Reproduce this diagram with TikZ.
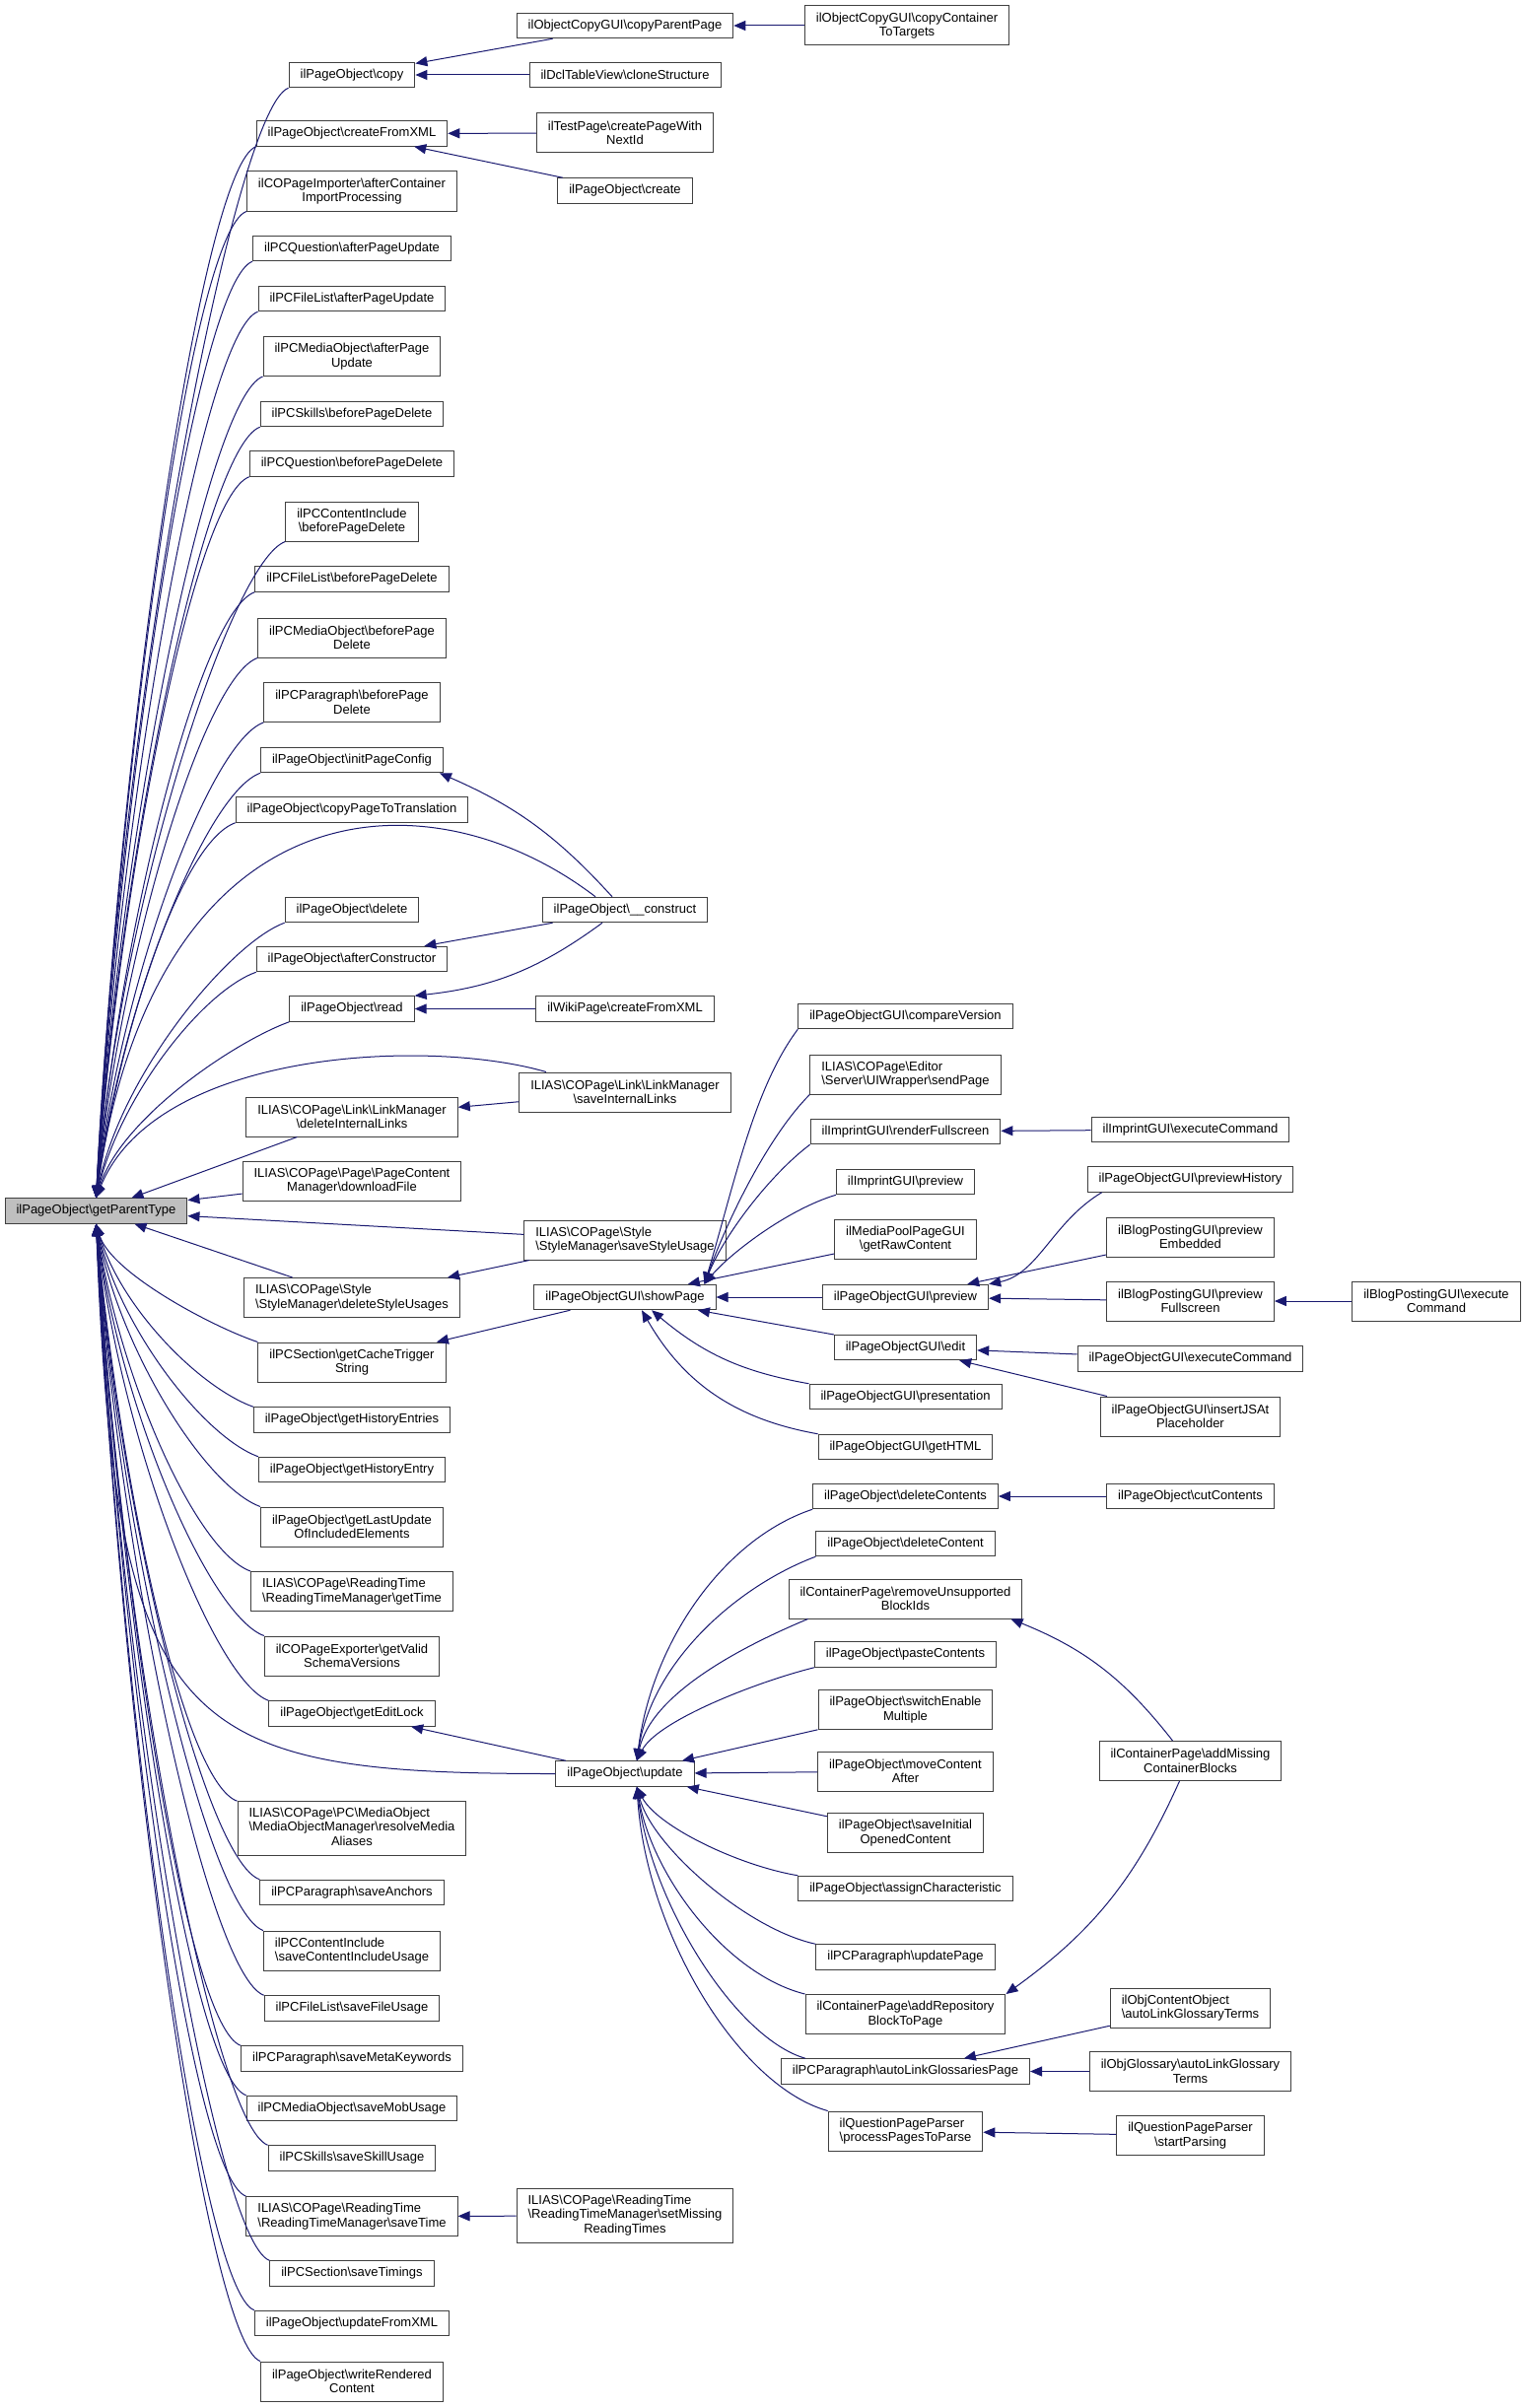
\documentclass[tikz,border=0pt]{standalone}
\usepackage{fontspec}
\setmainfont{Liberation Sans}
\usepackage{tikz}
\usetikzlibrary{arrows.meta}
\definecolor{edgeblue}{HTML}{191970}
\definecolor{boxgray}{HTML}{404040}
\definecolor{rootfill}{HTML}{BFBFBF}
\newcommand{\bsl}{\textbackslash}
\tikzset{
  fbase/.style={draw=boxgray, line width=1pt, fill=white, inner xsep=11.5pt, inner ysep=0pt,
    minimum height=25.5pt, font=\fontsize{13}{14.5}\selectfont},
  func/.style={fbase, align=center},
  func2/.style={func, minimum height=40pt},
  func3/.style={fbase, minimum height=54.5pt},
  focus/.style={func, fill=rootfill},
  call/.style={draw=edgeblue, line width=1pt, -{Triangle[length=12pt,width=10pt]}}
}
\begin{document}
\begin{tikzpicture}[x=1pt, y=-1pt]
      \useasboundingbox (0,0) rectangle (1548,2443);
      \node[focus] (root) at (97.5,1228.5) {ilPageObject\bsl getParentType};
      \node[func] (copy) at (357,76) {ilPageObject\bsl copy};
      \node[func] (createxml) at (357,135.5) {ilPageObject\bsl createFromXML};
      \node[func2] (afterimport) at (357,194) {ilCOPageImporter\bsl afterContainer\\ImportProcessing};
      \node[func] (qafterupd) at (357,252) {ilPCQuestion\bsl afterPageUpdate};
      \node[func] (flafterupd) at (357,303) {ilPCFileList\bsl afterPageUpdate};
      \node[func2] (moafterupd) at (357,361.5) {ilPCMediaObject\bsl afterPage\\Update};
      \node[func] (skbefdel) at (357,420) {ilPCSkills\bsl beforePageDelete};
      \node[func] (qbefdel) at (357,470.5) {ilPCQuestion\bsl beforePageDelete};
      \node[func2] (cibefdel) at (357,529) {ilPCContentInclude\\\bsl beforePageDelete};
      \node[func] (flbefdel) at (357,587.5) {ilPCFileList\bsl beforePageDelete};
      \node[func2] (mobefdel) at (357,647) {ilPCMediaObject\bsl beforePage\\Delete};
      \node[func2] (parbefdel) at (357,712.5) {ilPCParagraph\bsl beforePage\\Delete};
      \node[func] (initcfg) at (357,771) {ilPageObject\bsl initPageConfig};
      \node[func] (copytrans) at (357,821.5) {ilPageObject\bsl copyPageToTranslation};
      \node[func] (delete) at (357,923) {ilPageObject\bsl delete};
      \node[func] (afterctor) at (357,973) {ilPageObject\bsl afterConstructor};
      \node[func] (read) at (357,1023.5) {ilPageObject\bsl read};
      \node[func2] (dellinks) at (357,1133) {ILIAS\bsl COPage\bsl Link\bsl LinkManager\\\bsl deleteInternalLinks};
      \node[func2] (download) at (357,1198) {ILIAS\bsl COPage\bsl Page\bsl PageContent\\Manager\bsl downloadFile};
      \node[func2, align=left] (delstyle) at (357,1316.5) {ILIAS\bsl COPage\bsl Style\\\bsl StyleManager\bsl deleteStyleUsages};
      \node[func2] (cachetrig) at (357,1382) {ilPCSection\bsl getCacheTrigger\\String};
      \node[func] (histentries) at (357,1440.5) {ilPageObject\bsl getHistoryEntries};
      \node[func] (histentry) at (357,1491) {ilPageObject\bsl getHistoryEntry};
      \node[func2] (lastupd) at (357,1549) {ilPageObject\bsl getLastUpdate\\OfIncludedElements};
      \node[func2, align=left] (gettime) at (357,1614.5) {ILIAS\bsl COPage\bsl ReadingTime\\\bsl ReadingTimeManager\bsl getTime};
      \node[func2] (schemas) at (357,1680) {ilCOPageExporter\bsl getValid\\SchemaVersions};
      \node[func] (editlock) at (357,1738.5) {ilPageObject\bsl getEditLock};
      \node[func3] (resolvemedia) at (357,1855) {\begin{tabular}{@{}l@{}}ILIAS\bsl COPage\bsl PC\bsl MediaObject\\\bsl MediaObjectManager\bsl resolveMedia\\\multicolumn{1}{@{}c@{}}{Aliases}\end{tabular}};
      \node[func] (anchors) at (357,1920) {ilPCParagraph\bsl saveAnchors};
      \node[func2, align=left] (ciusage) at (357,1979) {ilPCContentInclude\\\bsl saveContentIncludeUsage};
      \node[func] (fileusage) at (357,2037.5) {ilPCFileList\bsl saveFileUsage};
      \node[func] (metakw) at (357,2088.5) {ilPCParagraph\bsl saveMetaKeywords};
      \node[func] (mobusage) at (357,2139) {ilPCMediaObject\bsl saveMobUsage};
      \node[func] (skillusage) at (357,2189.5) {ilPCSkills\bsl saveSkillUsage};
      \node[func2, align=left] (savetime) at (357,2248.5) {ILIAS\bsl COPage\bsl ReadingTime\\\bsl ReadingTimeManager\bsl saveTime};
      \node[func] (timings) at (357,2306.5) {ilPCSection\bsl saveTimings};
      \node[func] (updxml) at (357,2357) {ilPageObject\bsl updateFromXML};
      \node[func2] (writerend) at (357,2416) {ilPageObject\bsl writeRendered\\Content};
      \node[func] (copyparent) at (634,26) {ilObjectCopyGUI\bsl copyParentPage};
      \node[func] (clonestruct) at (634,76) {ilDclTableView\bsl cloneStructure};
      \node[func2] (createnext) at (634,135) {ilTestPage\bsl createPageWith\\NextId};
      \node[func] (create) at (634,193.5) {ilPageObject\bsl create};
      \node[func] (construct) at (634,923) {ilPageObject\bsl\_\_construct};
      \node[func] (wikixml) at (634,1023.5) {ilWikiPage\bsl createFromXML};
      \node[func2] (savelinks) at (634,1108) {ILIAS\bsl COPage\bsl Link\bsl LinkManager\\\bsl saveInternalLinks};
      \node[func2, align=left] (savestyle) at (634,1258) {ILIAS\bsl COPage\bsl Style\\\bsl StyleManager\bsl saveStyleUsage};
      \node[func] (showpage) at (634,1316) {ilPageObjectGUI\bsl showPage};
      \node[func] (update) at (634,1799.5) {ilPageObject\bsl update};
      \node[func3] (setmissing) at (634,2248) {\begin{tabular}{@{}l@{}}ILIAS\bsl COPage\bsl ReadingTime\\\bsl ReadingTimeManager\bsl setMissing\\\multicolumn{1}{@{}c@{}}{ReadingTimes}\end{tabular}};
      \node[func2] (copytargets) at (920,26) {ilObjectCopyGUI\bsl copyContainer\\ToTargets};
      \node[func] (compare) at (918.5,1031) {ilPageObjectGUI\bsl compareVersion};
      \node[func2, align=left] (sendpage) at (918.5,1090) {ILIAS\bsl COPage\bsl Editor\\\bsl Server\bsl UIWrapper\bsl sendPage};
      \node[func] (renderfull) at (918.5,1148) {ilImprintGUI\bsl renderFullscreen};
      \node[func] (imppreview) at (918.5,1199) {ilImprintGUI\bsl preview};
      \node[func2] (rawcontent) at (918.5,1257) {ilMediaPoolPageGUI\\\bsl getRawContent};
      \node[func] (preview) at (918.5,1316) {ilPageObjectGUI\bsl preview};
      \node[func] (edit) at (918.5,1367) {ilPageObjectGUI\bsl edit};
      \node[func] (presentation) at (918.5,1417) {ilPageObjectGUI\bsl presentation};
      \node[func] (gethtml) at (918.5,1468) {ilPageObjectGUI\bsl getHTML};
      \node[func] (delcontents) at (918.5,1518) {ilPageObject\bsl deleteContents};
      \node[func] (delcontent) at (918.5,1566) {ilPageObject\bsl deleteContent};
      \node[func2] (removeblocks) at (918.5,1622) {ilContainerPage\bsl removeUnsupported\\BlockIds};
      \node[func] (paste) at (918.5,1678.5) {ilPageObject\bsl pasteContents};
      \node[func2] (switchmult) at (918.5,1734.5) {ilPageObject\bsl switchEnable\\Multiple};
      \node[func2] (moveafter) at (918.5,1797) {ilPageObject\bsl moveContent\\After};
      \node[func2] (saveinitial) at (918.5,1859.5) {ilPageObject\bsl saveInitial\\OpenedContent};
      \node[func] (assignchar) at (918.5,1916) {ilPageObject\bsl assignCharacteristic};
      \node[func] (updpage) at (918.5,1985.5) {ilPCParagraph\bsl updatePage};
      \node[func2] (addrepo) at (918.5,2043.5) {ilContainerPage\bsl addRepository\\BlockToPage};
      \node[func] (autolinkpage) at (918.5,2101.5) {ilPCParagraph\bsl autoLinkGlossariesPage};
      \node[func2, align=left] (processpages) at (918.5,2162) {ilQuestionPageParser\\\bsl processPagesToParse};
      \node[func] (impexec) at (1207.5,1146) {ilImprintGUI\bsl executeCommand};
      \node[func] (prevhistory) at (1207.5,1196.5) {ilPageObjectGUI\bsl previewHistory};
      \node[func2] (prevembed) at (1207.5,1255) {ilBlogPostingGUI\bsl preview\\Embedded};
      \node[func2] (prevfull) at (1207.5,1320) {ilBlogPostingGUI\bsl preview\\Fullscreen};
      \node[func] (guiexec) at (1207.5,1378.5) {ilPageObjectGUI\bsl executeCommand};
      \node[func2] (insertjs) at (1207.5,1437) {ilPageObjectGUI\bsl insertJSAt\\Placeholder};
      \node[func] (cutcontents) at (1207.5,1518) {ilPageObject\bsl cutContents};
      \node[func2] (addmissing) at (1207.5,1786.5) {ilContainerPage\bsl addMissing\\ContainerBlocks};
      \node[func2, align=left] (colinkterms) at (1207.5,2037) {ilObjContentObject\\\bsl autoLinkGlossaryTerms};
      \node[func2] (glolinkterms) at (1207.5,2101.5) {ilObjGlossary\bsl autoLinkGlossary\\Terms};
      \node[func2] (startparsing) at (1207.5,2166.5) {ilQuestionPageParser\\\bsl startParsing};
      \node[func2] (blogexec) at (1457,1320) {ilBlogPostingGUI\bsl execute\\Command};
      \draw[call] (copy.south west) .. controls +(-55,20) and +(25,-507) .. (root.north);
      \draw[call] (createxml.south west) .. controls +(-55,20) and +(25,-480) .. (root.north);
      \draw[call] (afterimport.south west) .. controls +(-55,20) and +(25,-451) .. (root.north);
      \draw[call] (qafterupd.south west) .. controls +(-55,20) and +(25,-428) .. (root.north);
      \draw[call] (flafterupd.south west) .. controls +(-55,20) and +(25,-405) .. (root.north);
      \draw[call] (moafterupd.south west) .. controls +(-55,20) and +(25,-375) .. (root.north);
      \draw[call] (skbefdel.south west) .. controls +(-55,20) and +(25,-352) .. (root.north);
      \draw[call] (qbefdel.south west) .. controls +(-55,20) and +(25,-330) .. (root.north);
      \draw[call] (cibefdel.south west) .. controls +(-55,20) and +(25,-300) .. (root.north);
      \draw[call] (flbefdel.south west) .. controls +(-55,20) and +(25,-277) .. (root.north);
      \draw[call] (mobefdel.south west) .. controls +(-55,20) and +(25,-247) .. (root.north);
      \draw[call] (parbefdel.south west) .. controls +(-55,20) and +(25,-218) .. (root.north);
      \draw[call] (initcfg.south west) .. controls +(-55,20) and +(25,-194) .. (root.north);
      \draw[call] (copytrans.south west) .. controls +(-55,20) and +(25,-172) .. (root.north);
      \draw[call] (delete.south west) .. controls +(-55,20) and +(25,-126) .. (root.north);
      \draw[call] (afterctor.south west) .. controls +(-55,20) and +(25,-103) .. (root.north);
      \draw[call] (read.south west) .. controls +(-55,20) and +(25,-81) .. (root.north);
      \draw[call] (dellinks) -- (root);
      \draw[call] (download) -- (root);
      \draw[call] (savestyle) -- (root);
      \draw[call] (delstyle) -- (root);
      \draw[call] (cachetrig.north west) .. controls +(-45,-15) and +(15,50) .. (root.south);
      \draw[call] (histentries.north west) .. controls +(-55,-20) and +(25,85) .. (root.south);
      \draw[call] (histentry.north west) .. controls +(-55,-20) and +(25,107) .. (root.south);
      \draw[call] (lastupd.north west) .. controls +(-55,-20) and +(25,130) .. (root.south);
      \draw[call] (gettime.north west) .. controls +(-55,-20) and +(25,160) .. (root.south);
      \draw[call] (schemas.north west) .. controls +(-55,-20) and +(25,190) .. (root.south);
      \draw[call] (editlock.north west) .. controls +(-55,-20) and +(25,220) .. (root.south);
      \draw[call] (resolvemedia.north west) .. controls +(-55,-20) and +(25,265) .. (root.south);
      \draw[call] (anchors.north west) .. controls +(-55,-20) and +(25,300) .. (root.south);
      \draw[call] (ciusage.north west) .. controls +(-55,-20) and +(25,323) .. (root.south);
      \draw[call] (fileusage.north west) .. controls +(-55,-20) and +(25,353) .. (root.south);
      \draw[call] (metakw.north west) .. controls +(-55,-20) and +(25,376) .. (root.south);
      \draw[call] (mobusage.north west) .. controls +(-55,-20) and +(25,398) .. (root.south);
      \draw[call] (skillusage.north west) .. controls +(-55,-20) and +(25,421) .. (root.south);
      \draw[call] (savetime.north west) .. controls +(-55,-20) and +(25,444) .. (root.south);
      \draw[call] (timings.north west) .. controls +(-55,-20) and +(25,474) .. (root.south);
      \draw[call] (updxml.north west) .. controls +(-55,-20) and +(25,496) .. (root.south);
      \draw[call] (writerend.north west) .. controls +(-55,-20) and +(25,520) .. (root.south);
      \draw[call] (copyparent) -- (copy);
      \draw[call] (clonestruct) -- (copy);
      \draw[call] (copytargets) -- (copyparent);
      \draw[call] (createnext) -- (createxml);
      \draw[call] (create) -- (createxml);
      \draw[call] ([xshift=-13pt]construct.north) to[bend right=12] ([xshift=-4pt]initcfg.south east);
      \draw[call] (construct) -- (afterctor);
      \draw[call] ([xshift=-23pt]construct.south) to[bend left=15] (read.north east);
      \draw[call] ([xshift=-30pt]construct.north) .. controls +(-170,-130) and +(60,-420) .. (root.north);
      \draw[call] (wikixml) -- (read);
      \draw[call] (savelinks) -- (dellinks);
      \draw[call] ([xshift=-80pt]savelinks.north) .. controls +(-120,-35) and +(60,-150) .. (root.north);
      \draw[call] (savestyle) -- (delstyle);
      \draw[call] (showpage) -- (cachetrig);
      \draw[call] (update) -- (editlock);
      \draw[call] (update.west) .. controls +(-380,0) and +(20,520) .. (root.south);
      \draw[call] (setmissing) -- (savetime);
      \draw[call] (compare.south west) .. controls +(-45,60) and +(30,-100) .. ([xshift=-12pt]showpage.north east);
      \draw[call] (sendpage.south west) .. controls +(-40,40) and +(25,-70) .. ([xshift=-12pt]showpage.north east);
      \draw[call] (renderfull.south west) .. controls +(-40,30) and +(20,-50) .. ([xshift=-12pt]showpage.north east);
      \draw[call] (imppreview.south west) .. controls +(-50,15) and +(25,-30) .. ([xshift=-12pt]showpage.north east);
      \draw[call] (rawcontent) -- (showpage);
      \draw[call] (preview) -- (showpage);
      \draw[call] (edit) -- (showpage);
      \draw[call] (presentation.north west) to[bend left=15] ([xshift=27pt]showpage.south);
      \draw[call] (gethtml.north west) to[bend left=25] ([xshift=17pt]showpage.south);
      \draw[call] (impexec) -- (renderfull);
      \draw[call] ([xshift=15pt]prevhistory.south west) .. controls +(-50,30) and +(50,-10) .. (preview.north east);
      \draw[call] (prevembed) -- (preview);
      \draw[call] (prevfull) -- (preview);
      \draw[call] (blogexec) -- (prevfull);
      \draw[call] (guiexec) -- (edit);
      \draw[call] (insertjs) -- (edit);
      \draw[call] (delcontents.south west) .. controls +(-90,30) and +(15,-120) .. ([xshift=12pt]update.north);
      \draw[call] (delcontent.south west) .. controls +(-80,30) and +(15,-100) .. ([xshift=12pt]update.north);
      \draw[call] ([xshift=20pt]removeblocks.south west) .. controls +(-60,25) and +(15,-70) .. ([xshift=12pt]update.north);
      \draw[call] (paste.south west) .. controls +(-60,15) and +(20,-40) .. ([xshift=12pt]update.north);
      \draw[call] (switchmult) -- (update);
      \draw[call] (moveafter) -- (update);
      \draw[call] (saveinitial) -- (update);
      \draw[call] (assignchar.north west) .. controls +(-60,-10) and +(20,40) .. ([xshift=12pt]update.south);
      \draw[call] (updpage.north west) .. controls +(-70,-15) and +(15,60) .. ([xshift=12pt]update.south);
      \draw[call] (addrepo.north west) .. controls +(-80,-20) and +(15,90) .. ([xshift=12pt]update.south);
      \draw[call] ([xshift=25pt]autolinkpage.north west) .. controls +(-70,-20) and +(15,120) .. ([xshift=12pt]update.south);
      \draw[call] (processpages.north west) .. controls +(-90,-25) and +(10,150) .. ([xshift=12pt]update.south);
      \draw[call] (cutcontents) -- (delcontents);
      \draw[call] ([xshift=-18pt]addmissing.north) to[bend right=15] ([xshift=-12pt]removeblocks.south east);
      \draw[call] ([xshift=-11pt]addmissing.south) to[bend left=15] (addrepo.north east);
      \draw[call] (colinkterms) -- (autolinkpage);
      \draw[call] (glolinkterms) -- (autolinkpage);
      \draw[call] (startparsing) -- (processpages);
    \end{tikzpicture}
\end{document}
